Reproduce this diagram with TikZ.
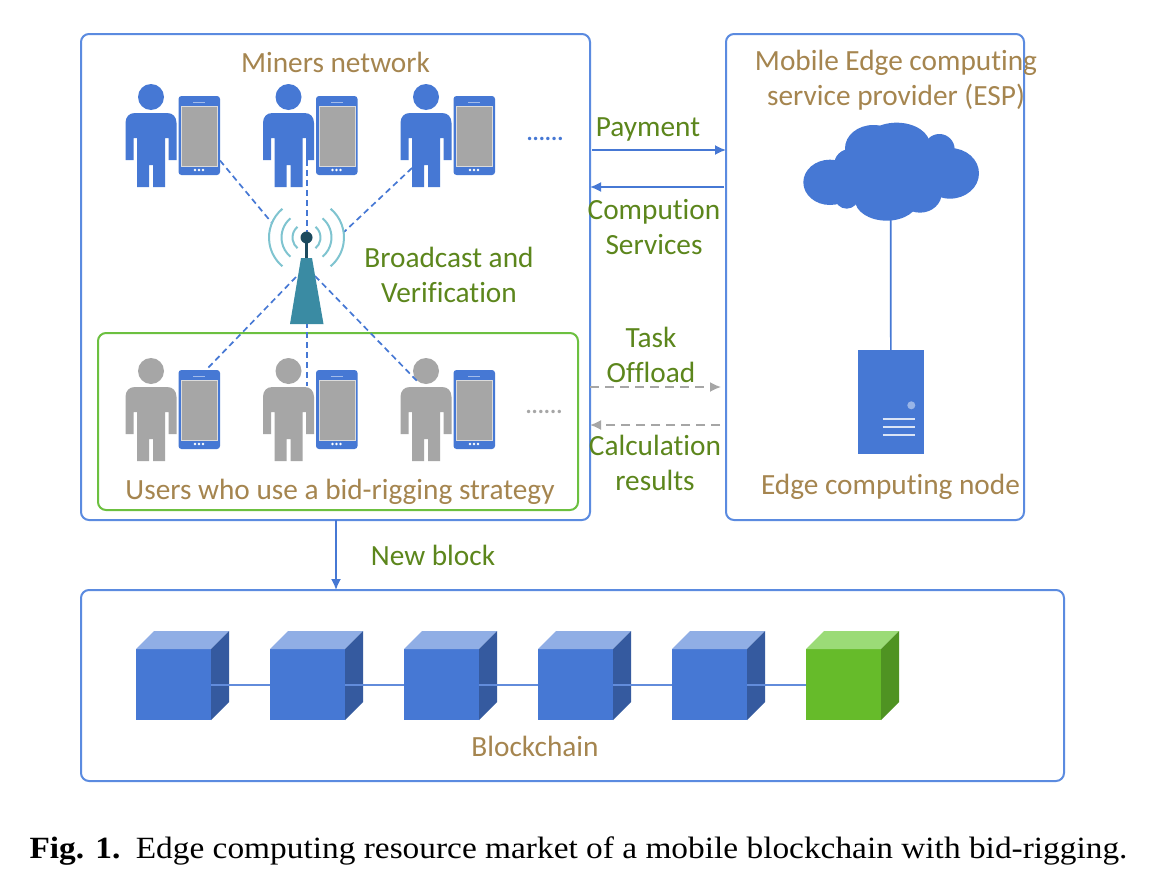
\documentclass[tikz,border=0pt]{standalone}
\usepackage{fontspec}
\setmainfont[Ligatures=NoCommon]{Carlito}
\newfontfamily\capfont[FakeStretch=1.08]{Liberation Serif}
\usetikzlibrary{arrows.meta}
\definecolor{bl}{HTML}{4678D4}
\definecolor{bx}{HTML}{5B8BE0}
\definecolor{gy}{HTML}{A6A6A6}
\definecolor{brn}{HTML}{A5854F}
\definecolor{grn}{HTML}{5C861C}
\definecolor{gb}{HTML}{6CC040}
\definecolor{teal1}{HTML}{3A8BA3}
\definecolor{teal2}{HTML}{7FC4D0}
\definecolor{navy}{HTML}{1C4A5E}
\tikzset{
  x=1pt,y=-1pt,
  panel/.style={draw=bx,line width=2pt,rounded corners=8pt},
  lab/.style={font=\fontsize{29.3}{27}\selectfont,align=center,inner sep=0pt},
  brownlab/.style={lab,text=brn},
  greenlab/.style={lab,text=grn},
  solidarrow/.style={draw=bl,line width=1.7pt,-{Latex[length=11pt,width=10pt]}},
  grayarrow/.style={draw=gy,line width=1.7pt,dash pattern=on 9pt off 6pt,-{Latex[length=11pt,width=10pt]}},
  radio/.style={draw=bl,line width=1.7pt,dash pattern=on 6pt off 4pt},
  wave/.style={draw=teal2,line width=2pt},
  pics/userphone/.style={code={
    \fill[#1] (0,0) circle (13);
    \fill[#1] (-25.5,63) -- (-25.5,26) .. controls (-25.5,20) and (-22,16) .. (-16,16)
      -- (16,16) .. controls (22,16) and (25.5,20) .. (25.5,26) -- (25.5,63) -- (17.5,63)
      -- (17.5,41) -- (14,41) -- (14,90) -- (2,90) -- (2,68) -- (-2,68) -- (-2,90)
      -- (-14,90) -- (-14,41) -- (-17.5,41) -- (-17.5,63) -- cycle;
    \fill[bl,rounded corners=3pt] (27.5,-1) rectangle (69,78);
    \fill[gy,draw=white!60!gy,line width=.8pt] (30.5,9) rectangle (66.5,69);
    \draw[white!50!bl,line width=1pt] (42,5) -- (54,5);
    \foreach \dx in {-4,0,4} \fill[white] (48+\dx,73) circle (1.4);
  }},
  pics/blockcube/.style n args={3}{code={
    \fill[#1] (0,0) rectangle (75,71);
    \fill[#2] (0,0) -- (18,-18) -- (93,-18) -- (75,0) -- cycle;
    \fill[#3] (75,0) -- (93,-18) -- (93,53) -- (75,71) -- cycle;
  }}
}
\begin{document}
\begin{tikzpicture}
\useasboundingbox (0,0) rectangle (1157,886);
\fill[white] (0,0) rectangle (1157,886);

% panels
\draw[panel] (81,34) rectangle (590,520);
\draw[panel] (726,34) rectangle (1024,520);
\draw[panel] (81,590) rectangle (1064,781);
\draw[draw=gb,line width=2pt,rounded corners=8pt] (98,333) rectangle (578,510);

% users
\foreach \x in {151,288.5,426} {
  \pic at (\x,97) {userphone=bl};
  \pic at (\x,371) {userphone=gy};
}
\node[text=bl,font=\bfseries\fontsize{23}{23}\selectfont,inner sep=0pt] (moreminers) at (545,139) {......};
\node[text=gy,font=\bfseries\fontsize{23}{23}\selectfont,inner sep=0pt] (moreusers) at (544,412) {......};

% antenna
\coordinate (hub) at (306.5,237.5);
\coordinate (p1) at (220,160.5);
\coordinate (p2) at (306.7,160);
\coordinate (p3) at (412,168);
\coordinate (p4) at (207,369);
\coordinate (p5) at (306.7,386);
\coordinate (p6) at (419,383);
\coordinate (a1) at (272,223);
\coordinate (a2) at (306.7,232);
\coordinate (a3) at (344,232);
\coordinate (a4) at (296,277);
\coordinate (a5) at (306.7,322);
\coordinate (a6) at (315,276);
\draw[radio] (p1) -- (a1);
\draw[radio] (p2) -- (a2);
\draw[radio] (p3) -- (a3);
\draw[radio] (a4) -- (p4);
\draw[radio] (a5) -- (p5);
\draw[radio] (a6) -- (p6);
\fill[teal1] (301,258) -- (312,258) -- (323.5,324) -- (290,324) -- cycle;
\draw[navy,line width=2.4pt] (hub) -- (306.5,258);
\fill[navy] (hub) circle (6);
\foreach \r in {14,25,37.5} {
  \draw[wave] (306.5,237.5) ++(-130:\r) arc[start angle=-130,end angle=-230,radius=\r];
  \draw[wave] (306.5,237.5) ++(-50:\r) arc[start angle=-50,end angle=50,radius=\r];
}

% cloud and server
\begin{scope}[shift={(780,110)},scale=1/3]
\fill[bl] (150,217) ellipse [x radius=80,y radius=68];
\fill[bl] (200,260) circle (36);
\fill[bl] (210,165) circle (48);
\fill[bl] (280,115) ellipse [x radius=85,y radius=70];
\fill[bl] (350,105) ellipse [x radius=100,y radius=67];
\fill[bl] (340,200) ellipse [x radius=150,y radius=100];
\fill[bl] (320,270) ellipse [x radius=95,y radius=62];
\fill[bl] (420,250) ellipse [x radius=65,y radius=58];
\fill[bl] (478,118) circle (46);
\fill[bl] (510,190) ellipse [x radius=87,y radius=76];
\end{scope}
\coordinate (cloud) at (890.7,218);
\node[fill=bl,minimum width=65.5pt,minimum height=104pt,inner sep=0pt] (server) at (890.8,402) {};
\fill[white!45!bl] (911.3,405.3) circle (4);
\foreach \yy in {419.3,427.3,435.3} \draw[white!80!bl,line width=1.8pt] (882.7,\yy) -- (915.3,\yy);
\draw[bl,line width=1.6pt] (cloud) -- (server.north);

% arrows
\coordinate (pa) at (592,150); \coordinate (pb) at (726,150);
\coordinate (ca) at (724,187); \coordinate (cb) at (590,187);
\coordinate (ta) at (590,387); \coordinate (tb) at (721,387);
\coordinate (ra) at (720,425); \coordinate (rb) at (590,425);
\coordinate (na) at (336,520); \coordinate (nb) at (336,590);
\draw[solidarrow] (pa) -- (pb);
\draw[solidarrow] (ca) -- (cb);
\draw[grayarrow] (ta) -- (tb);
\draw[grayarrow] (ra) -- (rb);
\draw[solidarrow] (na) -- (nb);

% blocks
\foreach \x in {136,270,404,538,672} \pic at (\x,649) {blockcube={bl}{white!40!bl}{black!25!bl}};
\definecolor{gf}{HTML}{66BB2A}\definecolor{gt}{HTML}{9BDB77}\definecolor{gs}{HTML}{4F9322}
\pic at (806,649) {blockcube={gf}{gt}{gs}};
\coordinate (c1) at (211,684.5); \coordinate (c2) at (270,684.5);
\coordinate (c3) at (345,684.5); \coordinate (c4) at (404,684.5);
\coordinate (c5) at (479,684.5); \coordinate (c6) at (538,684.5);
\coordinate (c7) at (613,684.5); \coordinate (c8) at (672,684.5);
\coordinate (c9) at (747,684.5); \coordinate (c10) at (806,684.5);
\foreach \a/\b in {c1/c2,c3/c4,c5/c6,c7/c8,c9/c10} \draw[white!15!bl,line width=2pt] (\a) -- (\b);

% labels
\node[brownlab] (miners) at (335.5,62) {Miners network};
\node[brownlab] (esp) at (896,80) {Mobile Edge computing\\[8pt]service provider (ESP)};
\node[brownlab] (edge) at (890.5,487) {Edge computing node};
\node[brownlab] (users) at (340,492) {Users who use a bid-rigging strategy};
\node[brownlab] (chain) at (535,746) {Blockchain};
\node[greenlab] (pay) at (648,129) {Payment};
\node[greenlab] (comp) at (654,227) {Compution\\[8pt]Services};
\node[greenlab] (bv) at (449,275) {Broadcast and\\[8pt]Verification};
\node[greenlab] (task) at (651,355) {Task\\[8pt]Offload};
\node[greenlab] (calc) at (655,463) {Calculation\\[8pt]results};
\node[greenlab] (newb) at (433,555) {New block};
\node[inner sep=0pt,font=\capfont\fontsize{30.9}{30}\selectfont,anchor=base] (cap) at (578.5,858) {\textbf{Fig. 1.}\hspace{.5em}Edge computing resource market of a mobile blockchain with bid-rigging.};
\end{tikzpicture}
\end{document}
